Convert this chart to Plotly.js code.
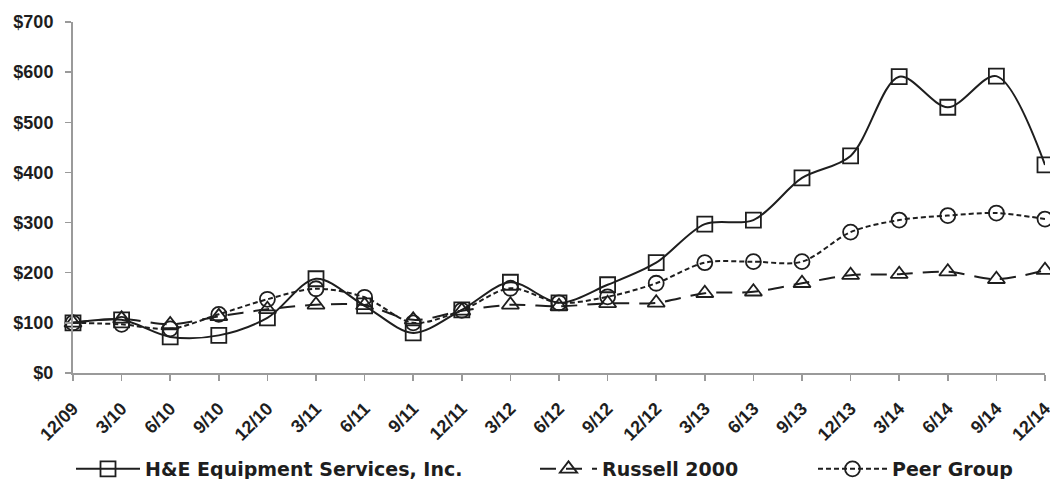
<!DOCTYPE html>
<html>
<head>
<meta charset="utf-8">
<script src="https://cdn.plot.ly/plotly-3.0.1.min.js"></script>
<style>
html,body{margin:0;padding:0;background:#fff;}
#chart{width:1050px;height:479px;}
</style>
</head>
<body>
<div id="chart"></div>
<script>
var quarters = ["12/09","3/10","6/10","9/10","12/10","3/11","6/11","9/11","12/11","3/12","6/12","9/12","12/12","3/13","6/13","9/13","12/13","3/14","6/14","9/14","12/14"];
var heValues = [100,106,72,75,110,188,134,80,126,181,140,176,220,297,305,389,433,591,530,592,415];
var russellValues = [100,108,97,113,127,136,135,106,124,136,133,139,140,159,162,179,195,197,202,187,205];
var peerValues = [100,97,88,117,147,168,151,100,125,169,140,152,179,220,222,222,281,305,314,319,307];
var yTickVals = [0,100,200,300,400,500,600,700];
var yTickText = ["$0","$100","$200","$300","$400","$500","$600","$700"];

var seriesNames = ["H&E Equipment Services, Inc.", "Russell 2000", "Peer Group"];

var xIdx = quarters.map(function(q, i){ return i; });
var ink = "#1e1e1e";
var axisGray = "#9a9a9a";
var fontFam = "'Liberation Sans', Arial, sans-serif";
var legendFam = "'DejaVu Sans', Verdana, sans-serif";

var traces = [
  {x: xIdx, y: heValues, name: seriesNames[0], type: "scatter", mode: "lines+markers",
   line: {color: ink, width: 2, shape: "spline", smoothing: 0.9},
   marker: {symbol: "square-open", size: 15, color: ink, line: {width: 1.8, color: ink}},
   legend: "legend", cliponaxis: false},
  {x: xIdx, y: russellValues, name: seriesNames[1], type: "scatter", mode: "lines+markers",
   line: {color: ink, width: 2, dash: "16px,10px", shape: "spline", smoothing: 0.9},
   marker: {symbol: "triangle-up-open", size: 15, color: ink, line: {width: 1.8, color: ink}},
   legend: "legend2", cliponaxis: false},
  {x: xIdx, y: peerValues, name: seriesNames[2], type: "scatter", mode: "lines+markers",
   line: {color: ink, width: 2, dash: "5px,3px", shape: "spline", smoothing: 0.9},
   marker: {symbol: "circle-open", size: 15, color: ink, line: {width: 1.8, color: ink}},
   legend: "legend3", cliponaxis: false}
];

var legendFont = {family: legendFam, size: 19, color: ink, weight: "bold"};
function mkLegend(x, w){
  return {x: x, xref: "container", xanchor: "left",
          y: 1 - 469/479, yref: "container", yanchor: "middle", orientation: "h",
          itemwidth: w,
          font: legendFont, bgcolor: "rgba(0,0,0,0)", borderwidth: 0};
}

var layout = {
  width: 1050, height: 479,
  margin: {l: 73, r: 5, t: 22, b: 106},
  paper_bgcolor: "#fff", plot_bgcolor: "#fff",
  showlegend: true,
  font: {family: fontFam, size: 18, color: ink, weight: "bold"},
  xaxis: {
    range: [0, 20], tickvals: xIdx, ticktext: quarters, tickangle: -45,
    automargin: false, ticklabeloverflow: "allow",
    showgrid: false, zeroline: false, showline: true, linecolor: axisGray, linewidth: 2,
    ticks: "outside", ticklen: 6, tickcolor: axisGray, tickwidth: 1.5,
    ticklabelstandoff: 10,
    tickfont: {family: fontFam, size: 18, color: ink, weight: "bold"}
  },
  yaxis: {
    range: [0, 700], tickvals: yTickVals, ticktext: yTickText,
    automargin: false,
    showgrid: false, zeroline: false, showline: true, linecolor: axisGray, linewidth: 2,
    ticks: "outside", ticklen: 6, tickcolor: axisGray, tickwidth: 1.5,
    ticklabelstandoff: 8,
    tickfont: {family: fontFam, size: 18, color: ink, weight: "bold"}
  },
  legend: mkLegend(71/1050, 64),
  legend2: mkLegend(535/1050, 57),
  legend3: mkLegend(813/1050, 69)
};

Plotly.newPlot("chart", traces, layout, {displayModeBar: false, staticPlot: true});
</script>
</body>
</html>
